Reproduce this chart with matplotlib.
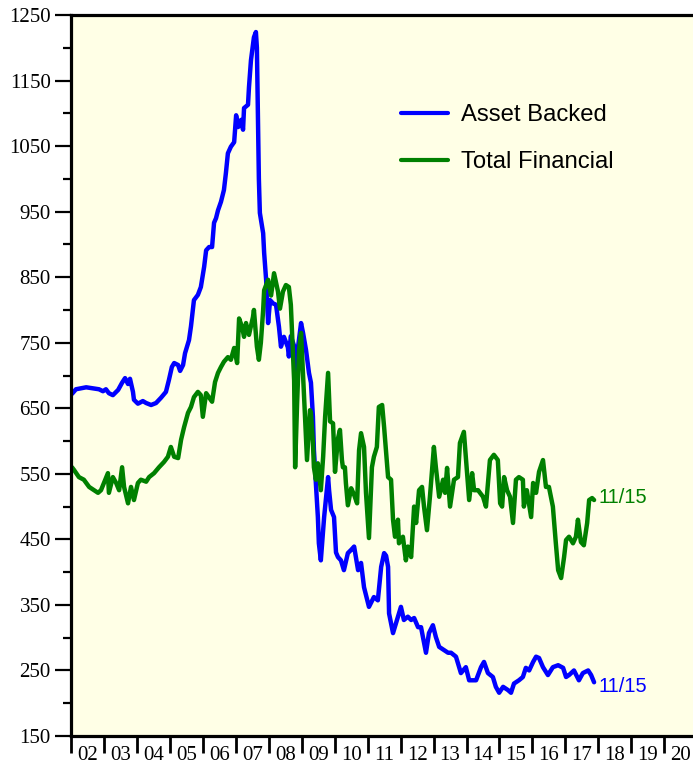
import matplotlib
matplotlib.use("Agg")
import matplotlib.pyplot as plt
from matplotlib.ticker import FixedLocator, NullFormatter

# ---- data ----
ab_years = [2002.03, 2002.15, 2002.46, 2002.85, 2002.97, 2003.06, 2003.15, 2003.27, 2003.43, 2003.55,
            2003.64, 2003.73, 2003.79, 2003.88, 2003.91, 2004.03, 2004.18, 2004.28, 2004.43, 2004.58,
            2004.73, 2004.88, 2004.97, 2005.06, 2005.13, 2005.25, 2005.31, 2005.40, 2005.46, 2005.58,
            2005.64, 2005.73, 2005.85, 2005.94, 2006.04, 2006.10, 2006.19, 2006.28, 2006.34, 2006.40,
            2006.46, 2006.55, 2006.64, 2006.70, 2006.76, 2006.85, 2006.95, 2007.01, 2007.07, 2007.16,
            2007.22, 2007.25, 2007.37, 2007.40, 2007.46, 2007.55, 2007.61, 2007.64, 2007.67, 2007.70,
            2007.73, 2007.83, 2007.86, 2007.92, 2007.98, 2008.04, 2008.13, 2008.22, 2008.31, 2008.37,
            2008.46, 2008.58, 2008.61, 2008.67, 2008.77, 2008.83, 2008.89, 2008.98, 2009.04, 2009.13,
            2009.22, 2009.28, 2009.34, 2009.37, 2009.43, 2009.49, 2009.52, 2009.58, 2009.68, 2009.80,
            2009.83, 2009.89, 2009.98, 2010.04, 2010.10, 2010.19, 2010.28, 2010.40, 2010.50, 2010.59,
            2010.71, 2010.80, 2010.89, 2011.04, 2011.19, 2011.31, 2011.41, 2011.50, 2011.56, 2011.62,
            2011.65, 2011.77, 2011.86, 2012.01, 2012.10, 2012.22, 2012.32, 2012.41, 2012.53, 2012.62,
            2012.77, 2012.86, 2012.98, 2013.07, 2013.17, 2013.32, 2013.44, 2013.53, 2013.68, 2013.83,
            2013.98, 2014.08, 2014.29, 2014.44, 2014.53, 2014.65, 2014.80, 2014.89, 2014.99, 2015.11,
            2015.26, 2015.35, 2015.44, 2015.59, 2015.71, 2015.80, 2015.90, 2016.02, 2016.11, 2016.20,
            2016.32, 2016.47, 2016.62, 2016.78, 2016.93, 2017.02, 2017.11, 2017.26, 2017.41, 2017.53,
            2017.69, 2017.78, 2017.87]
asset_backed = [672, 679, 682, 679, 676, 679, 673, 670, 678, 689,
                696, 687, 695, 675, 663, 657, 661, 658, 655, 658,
                666, 675, 693, 713, 719, 716, 707, 716, 734, 754,
                775, 815, 823, 835, 866, 891, 896, 896, 933, 940,
                952, 965, 983, 1009, 1039, 1049, 1056, 1097, 1079, 1090,
                1075, 1108, 1113, 1140, 1181, 1216, 1224, 1200, 1100, 1000,
                948, 917, 887, 846, 780, 815, 810, 808, 774, 744,
                759, 743, 729, 760, 745, 700, 744, 780, 765, 739,
                704, 689, 637, 586, 536, 484, 444, 418, 484, 545,
                525, 495, 484, 430, 423, 418, 403, 429, 434, 439,
                403, 414, 377, 347, 362, 357, 408, 429, 425, 408,
                337, 307, 322, 347, 327, 332, 327, 330, 316, 316,
                277, 307, 319, 301, 286, 281, 277, 277, 271, 246,
                255, 235, 235, 255, 263, 246, 240, 225, 216, 225,
                220, 216, 230, 235, 240, 254, 250, 263, 271, 269,
                255, 243, 255, 258, 254, 240, 243, 250, 235, 246,
                250, 243, 232]

tf_years = [2002.03, 2002.09, 2002.24, 2002.39, 2002.55, 2002.70, 2002.82, 2002.91, 2003.00, 2003.12,
            2003.15, 2003.27, 2003.37, 2003.46, 2003.55, 2003.61, 2003.73, 2003.82, 2003.91, 2004.03,
            2004.12, 2004.28, 2004.37, 2004.52, 2004.67, 2004.82, 2004.94, 2005.03, 2005.13, 2005.25,
            2005.34, 2005.43, 2005.55, 2005.64, 2005.73, 2005.85, 2005.94, 2006.00, 2006.10, 2006.28,
            2006.37, 2006.46, 2006.55, 2006.64, 2006.76, 2006.85, 2006.95, 2007.04, 2007.10, 2007.19,
            2007.25, 2007.31, 2007.40, 2007.52, 2007.55, 2007.64, 2007.70, 2007.76, 2007.83, 2007.86,
            2007.98, 2008.07, 2008.16, 2008.28, 2008.34, 2008.43, 2008.52, 2008.61, 2008.67, 2008.77,
            2008.80, 2008.86, 2008.92, 2008.98, 2009.07, 2009.10, 2009.16, 2009.25, 2009.28, 2009.34,
            2009.37, 2009.43, 2009.49, 2009.58, 2009.65, 2009.71, 2009.80, 2009.86, 2009.95, 2010.01,
            2010.10, 2010.16, 2010.22, 2010.25, 2010.31, 2010.34, 2010.40, 2010.50, 2010.59, 2010.68,
            2010.74, 2010.80, 2010.89, 2010.95, 2011.04, 2011.13, 2011.19, 2011.28, 2011.34, 2011.44,
            2011.50, 2011.62, 2011.71, 2011.77, 2011.83, 2011.92, 2011.95, 2012.07, 2012.16, 2012.22,
            2012.32, 2012.41, 2012.47, 2012.56, 2012.65, 2012.71, 2012.80, 2012.89, 2013.01, 2013.07,
            2013.17, 2013.29, 2013.35, 2013.41, 2013.50, 2013.62, 2013.74, 2013.80, 2013.92, 2014.01,
            2014.08, 2014.17, 2014.23, 2014.35, 2014.50, 2014.59, 2014.71, 2014.83, 2014.95, 2015.02,
            2015.08, 2015.14, 2015.23, 2015.32, 2015.41, 2015.50, 2015.59, 2015.71, 2015.74, 2015.83,
            2015.96, 2016.02, 2016.11, 2016.20, 2016.32, 2016.41, 2016.50, 2016.62, 2016.71, 2016.78,
            2016.87, 2016.96, 2017.02, 2017.11, 2017.23, 2017.32, 2017.38, 2017.47, 2017.56, 2017.66,
            2017.72, 2017.81, 2017.87]
total_financial = [560, 556, 545, 541, 530, 525, 521, 525, 536, 551,
                   521, 545, 536, 525, 560, 530, 505, 530, 510, 536,
                   541, 538, 545, 551, 560, 568, 576, 591, 576, 574,
                   602, 621, 643, 652, 667, 675, 670, 637, 673, 660,
                   690, 704, 713, 721, 728, 724, 742, 719, 787, 774,
                   759, 780, 762, 789, 800, 744, 724, 750, 800, 830,
                   846, 822, 856, 828, 802, 828, 838, 835, 808, 692,
                   560, 658, 739, 765, 670, 637, 571, 647, 643, 597,
                   560, 541, 566, 525, 576, 637, 704, 630, 627, 553,
                   604, 617, 571, 560, 560, 536, 502, 528, 518, 505,
                   586, 612, 591, 521, 452, 560, 576, 591, 652, 655,
                   621, 545, 541, 480, 454, 480, 444, 454, 418, 439,
                   423, 500, 475, 525, 530, 500, 464, 515, 591, 560,
                   515, 541, 521, 559, 500, 541, 545, 597, 614, 556,
                   510, 551, 525, 525, 515, 500, 571, 579, 571, 505,
                   500, 545, 525, 515, 475, 541, 545, 541, 500, 525,
                   484, 536, 521, 553, 571, 530, 530, 500, 444, 403,
                   391, 423, 449, 454, 444, 454, 480, 446, 441, 475,
                   510, 513, 510]

series_names = ["Asset Backed", "Total Financial"]
year_labels = [f"{y % 100:02d}" for y in range(2002, 2021)]
end_label = "11/15"

# ---- drawing ----
BLUE = "#0000FF"
GREEN = "#008000"
BG = "#FFFFE6"

fig = plt.figure(figsize=(6.93, 7.67), dpi=100)
ax = fig.add_axes([71 / 693, 31 / 767, 622 / 693, 721 / 767])
ax.set_facecolor(BG)

ax.plot(ab_years, asset_backed, color=BLUE, lw=3.2, solid_joinstyle="round",
        solid_capstyle="round", label=series_names[0])
ax.plot(tf_years, total_financial, color=GREEN, lw=3.2, solid_joinstyle="round",
        solid_capstyle="round", label=series_names[1])

ax.set_xlim(2002, 2002 + 622 / 32.96)
ax.set_ylim(150, 1250)

for s in ("left", "top", "bottom"):
    ax.spines[s].set_linewidth(2.3)
ax.spines["right"].set_visible(False)

# x axis: year boundaries as ticks, labels centred in each year
years = list(range(2002, 2021))
ax.xaxis.set_major_locator(FixedLocator(years))
ax.xaxis.set_major_formatter(NullFormatter())
ax.xaxis.set_minor_locator(FixedLocator([y + 0.5 for y in years]))
ax.set_xticklabels(year_labels, minor=True)
ax.tick_params(axis="x", which="major", direction="out", length=12, width=2)
ax.tick_params(axis="x", which="minor", length=0, pad=7)

# y axis
ax.set_yticks(list(range(150, 1251, 100)))
ax.set_yticks(list(range(200, 1201, 100)), minor=True)
ax.tick_params(axis="y", which="major", direction="out", length=11.5, width=1.6, pad=3)
ax.tick_params(axis="y", which="minor", direction="out", length=5.5, width=1.6)

for lab in ax.get_yticklabels() + ax.get_xticklabels(minor=True):
    lab.set_fontfamily("Liberation Serif")
    lab.set_fontsize(15)

leg = ax.legend(loc="upper left", bbox_to_anchor=(0.531, 0.876), frameon=False,
                prop={"family": "Liberation Sans", "size": 17.2},
                handlelength=1.95, handletextpad=0.55, labelspacing=1.05,
                borderpad=0, borderaxespad=0)
for h in leg.get_lines():
    h.set_linewidth(3.0)

ax.annotate(end_label, xy=(ab_years[-1], asset_backed[-1]), xytext=(3, -3),
            textcoords="offset points", ha="left", va="center", color=BLUE,
            fontsize=14.5, family="Liberation Sans")
ax.annotate(end_label, xy=(tf_years[-1], total_financial[-1]), xytext=(3, 2),
            textcoords="offset points", ha="left", va="center", color=GREEN,
            fontsize=14.5, family="Liberation Sans")

fig.savefig("out.png", dpi=100, facecolor="white")
